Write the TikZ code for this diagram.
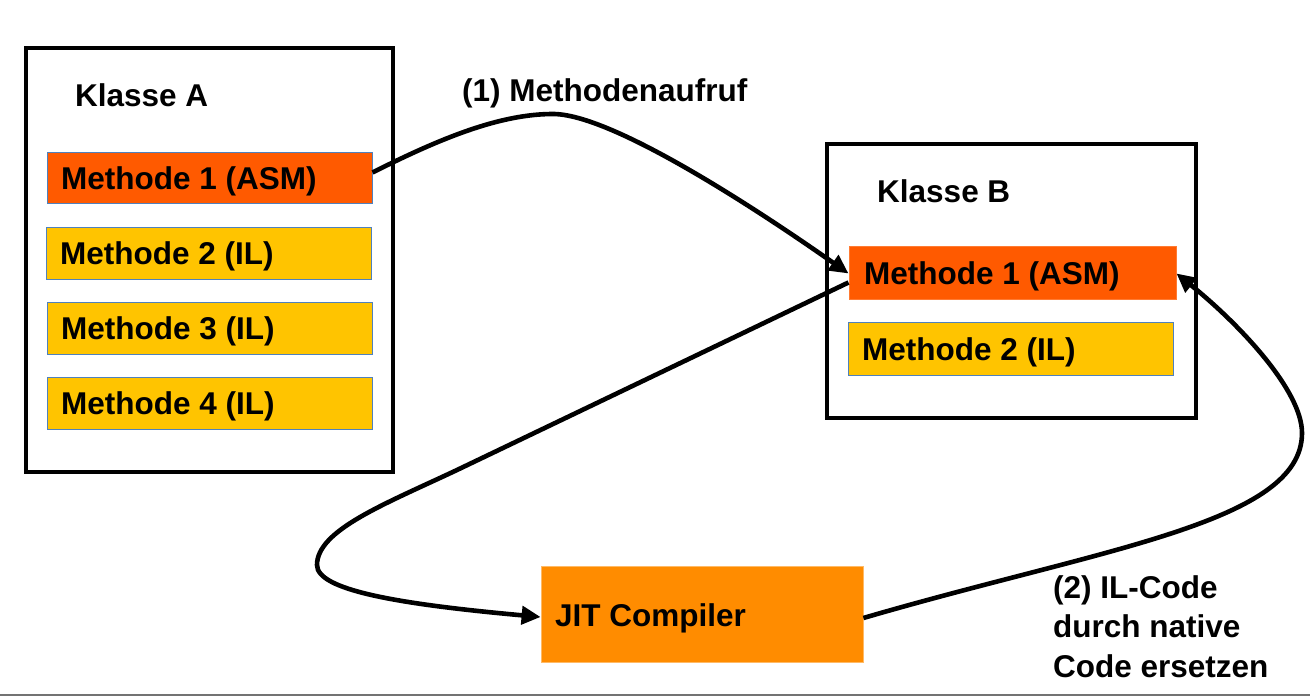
\documentclass[tikz,border=0pt]{standalone}
\usepackage{fontspec}
\setmainfont{Liberation Sans}
\usetikzlibrary{arrows.meta}
\definecolor{asmc}{RGB}{255,90,0}
\definecolor{ilc}{RGB}{255,196,0}
\definecolor{jitc}{RGB}{255,140,0}
\definecolor{edgeblue}{RGB}{79,129,189}
\tikzset{
  cls/.style={draw=black, line width=3.2pt, fill=white, rectangle, inner sep=0pt},
  mbox/.style={draw=edgeblue, line width=1pt, rectangle, inner sep=0pt, minimum width=325pt, minimum height=52pt},
  asmbox/.style={mbox, fill=asmc},
  ilbox/.style={mbox, fill=ilc},
  jitbox/.style={draw=jitc!60!white, line width=0.8pt, fill=jitc, rectangle, inner sep=0pt},
  txt/.style={inner sep=0pt, anchor=base west, font=\fontsize{31.5pt}{39.5pt}\selectfont\bfseries},
  conn/.style={draw=black, line width=4.6pt, -{Triangle[length=19pt,width=18pt]}},
}
\begin{document}
\begin{tikzpicture}[x=1pt,y=-1pt]
\useasboundingbox (0,0) rectangle (1310,700);
\fill[white] (0,0) rectangle (1310,700);

% Klasse A
\node[cls, minimum width=367pt, minimum height=424pt] (kA) at (209.5,260) {};
\node[txt] (kAt) at (75,107) {Klasse A};
\node[asmbox, minimum height=51pt] (a1) at (209.5,178.5) {};
\node[txt] (a1t) at (61,189.5) {Methode 1 (ASM)};
\node[ilbox] (a2) at (208.5,254) {};
\node[txt] (a2t) at (60,265) {Methode 2 (IL)};
\node[ilbox] (a3) at (209.5,329) {};
\node[txt] (a3t) at (61,340) {Methode 3 (IL)};
\node[ilbox] (a4) at (209.5,404) {};
\node[txt] (a4t) at (61,415) {Methode 4 (IL)};

% Klasse B
\node[cls, minimum width=369pt, minimum height=274pt] (kB) at (1011.5,281) {};
\node[txt] (kBt) at (877,203) {Klasse B};
\node[asmbox, draw=asmc!80!white, minimum width=327pt, minimum height=53pt] (b1) at (1012.5,273.5) {};
\node[txt] (b1t) at (864,285) {Methode 1 (ASM)};
\node[ilbox, minimum height=53pt] (b2) at (1010.5,349.5) {};
\node[txt] (b2t) at (862,361) {Methode 2 (IL)};

% JIT
\node[jitbox, minimum width=322pt, minimum height=96pt] (jit) at (702,614) {};
\node[txt] (jitt) at (555,626) {JIT Compiler};

% labels
\node[txt] (l1) at (462,102) {(1) Methodenaufruf};
\node[txt, anchor=north west, align=left] (l2) at (1053,575) {(2) IL-Code\\durch native\\Code ersetzen};

% connectors
\draw[conn] ([yshift=6pt]a1.east) .. controls (441,138) and (500,114) .. (553,114)
  .. controls (610,114) and (748,203) .. (b1.west);
\draw[conn] ([yshift=-9pt]b1.west) -- (457,470) .. controls (385,504) and (317,530) .. (317,565)
  .. controls (317,590) and (397,604) .. ([yshift=-3pt]jit.west);
\draw[conn] ([yshift=-4pt]jit.east) .. controls (1103,548) and (1302,523) .. (1302,433)
  .. controls (1302,390) and (1238,323) .. (b1.east);

% bottom rule
\coordinate (bl) at (0,695);
\coordinate (br) at (1310,695);
\draw[line width=2pt, black!55] (bl) -- (br);
\end{tikzpicture}
\end{document}
